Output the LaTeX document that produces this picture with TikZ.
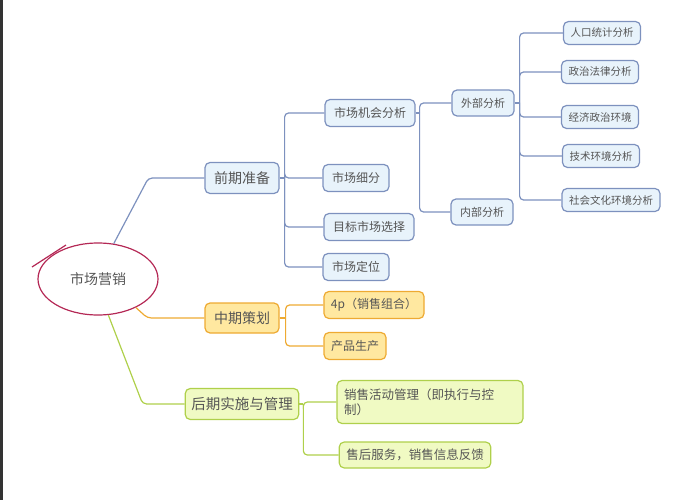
\documentclass[tikz,border=0pt]{standalone}
\usepackage{fontspec}
\setmainfont{Noto Sans CJK SC}
\usetikzlibrary{shapes.geometric,positioning,calc}

\definecolor{txt}{RGB}{85,85,85}
\definecolor{bline}{RGB}{125,145,190}
\definecolor{bfill}{RGB}{232,243,251}
\definecolor{oline}{RGB}{238,170,50}
\definecolor{ofill}{RGB}{255,232,160}
\definecolor{gline}{RGB}{175,208,75}
\definecolor{gfill}{RGB}{240,250,195}
\definecolor{rline}{RGB}{180,40,85}

\begin{document}
\begin{tikzpicture}[
    x=1pt, y=-1pt,
    box/.style={rectangle, rounded corners=5pt, draw, line width=1.2pt, inner xsep=9pt, inner ysep=0pt, text=txt, align=center},
    btop/.style={box, draw=bline, fill=bfill, font=\fontsize{14}{16}\selectfont, minimum height=31pt},
    bmid/.style={box, draw=bline, fill=bfill, font=\fontsize{12}{14}\selectfont, minimum height=27pt},
    bsub/.style={box, draw=bline, fill=bfill, font=\fontsize{11}{13}\selectfont, minimum height=26pt},
    bleaf/.style={box, draw=bline, fill=bfill, font=\fontsize{10.5}{12}\selectfont, minimum height=23pt, inner xsep=7pt},
    otop/.style={box, draw=oline, fill=ofill, font=\fontsize{14}{16}\selectfont, minimum height=30pt},
    omid/.style={box, draw=oline, fill=ofill, font=\fontsize{12}{14}\selectfont, minimum height=27pt, inner xsep=7pt},
    gtop/.style={box, draw=gline, fill=gfill, font=\fontsize{14.5}{16}\selectfont, minimum height=31pt, inner xsep=6pt},
    gmid/.style={box, draw=gline, fill=gfill, font=\fontsize{12.5}{15}\selectfont, minimum height=26pt, inner xsep=7pt},
    bl/.style={draw=bline, line width=1.2pt, rounded corners=4pt},
    ol/.style={draw=oline, line width=1.2pt, rounded corners=4pt},
    gl/.style={draw=gline, line width=1.2pt, rounded corners=4pt}
]

\useasboundingbox (0,0) rectangle (685,500);
\fill[black!80] (0,0) rectangle (3,500);

% Root
\node[ellipse, draw=rline, line width=1.2pt, minimum width=120pt, minimum height=72pt, inner sep=0pt, font=\fontsize{14}{16}\selectfont, text=txt] (root) at (98,279) {市场营销};
\draw[rline, line width=1.2pt] (32,267) -- (66,245);

% Early stage
\node[btop] (qq) at (242,178) {前期准备};
\node[bmid] (jh) at (370,113) {市场机会分析};
\node[bmid] (xf) at (356,178) {市场细分};
\node[bmid] (mb) at (369,227) {目标市场选择};
\node[bmid] (dw) at (356,267) {市场定位};
\node[bsub] (wb) at (483,103) {外部分析};
\node[bsub] (nb) at (482,212) {内部分析};
\node[bleaf] (rk) at (602,33) {人口统计分析};
\node[bleaf] (zz) at (600,72) {政治法律分析};
\node[bleaf] (jj) at (600,117) {经济政治环境};
\node[bleaf] (js) at (601,156) {技术环境分析};
\node[bleaf] (sh) at (611,200) {社会文化环境分析};

% Middle stage
\node[otop] (zq) at (242,318) {中期策划};
\node[omid] (fp) at (374,305) {4p（销售组合）};
\node[omid] (cp) at (355,346) {产品生产};

% Late stage
\node[gtop] (hq) at (242,404) {后期实施与管理};
\node[gmid, text width=172pt, align=left, minimum height=43pt] (xs) at (430,402) {销售活动管理（即执行与控\\制）};
\node[gmid] (sf) at (415,455) {售后服务，销售信息反馈};

% Connectors
\draw[bl] (root.66) -- ([xshift=-56pt]qq.west) -- (qq.west);
\draw[bl] (qq.east) -- ++(5,0) coordinate (qqt);
\foreach \c in {jh,xf,mb,dw} {
    \draw[bl] (qqt) |- (\c.west);
}
\draw[bl] (jh.east) -- ++(4,0) coordinate (jht);
\foreach \c in {wb,nb} {
    \draw[bl] (jht) |- (\c.west);
}
\draw[bl] (wb.east) -- ++(5,0) coordinate (wbt);
\foreach \c in {rk,zz,jj,js,sh} {
    \draw[bl] (wbt) |- (\c.west);
}
\draw[ol] (root.-37) -- ([xshift=-57pt]zq.west) -- (zq.west);
\draw[ol] (zq.east) -- ++(6,0) coordinate (zqt);
\foreach \c in {fp,cp} {
    \draw[ol] (zqt) |- (\c.west);
}
\draw[gl] (root.-74) -- ([xshift=-42pt]hq.west) -- (hq.west);
\draw[gl] (hq.east) -- ++(4,0) coordinate (hqt);
\foreach \c in {xs,sf} {
    \draw[gl] (hqt) |- (\c.west);
}

\end{tikzpicture}
\end{document}
